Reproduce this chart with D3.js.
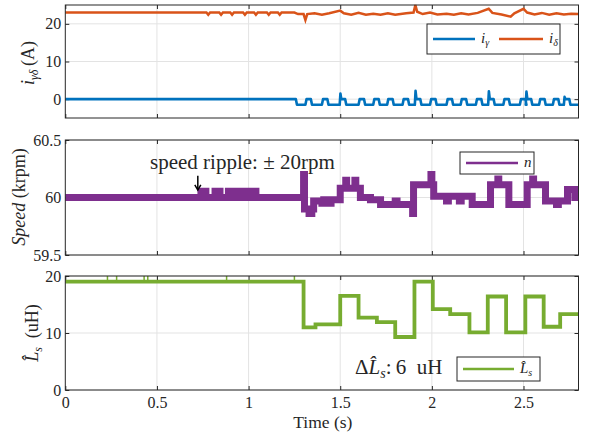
<!DOCTYPE html>
<html>
<head>
<meta charset="utf-8">
<script src="https://cdn.jsdelivr.net/npm/d3@7"></script>
<style>
  body { margin: 0; background: #fff; }
  text { font-family: "Liberation Serif", "Times New Roman", serif; fill: #262626; }
</style>
</head>
<body>
<svg width="589" height="438"></svg>
<script>
// values
let xTicks = [0, 0.5, 1, 1.5, 2, 2.5];
let currentTicks = [0, 10, 20];
let speedTicks = [59.5, 60, 60.5];
let lsTicks = [0, 10, 20];

// i_delta (A), [time, value]
let iDelta = [[0,23],[0.77,23],[0.78,22.4],[0.79,23],[0.84,23],[0.85,22.4],[0.86,23],[0.90,23],[0.91,22.4],
  [0.92,23],[0.97,23],[0.98,22.4],[0.99,23],[1.03,23],[1.04,22.4],[1.05,23],[1.10,23],[1.11,22.4],[1.12,23],
  [1.16,23],[1.17,22.4],[1.18,23],[1.25,23],[1.27,22.6],[1.30,22.6],[1.31,21.0],[1.32,22.6],[1.36,22.8],
  [1.40,22.4],[1.44,22.8],[1.50,23.5],[1.52,22.8],[1.56,22.4],[1.60,22.9],[1.64,22.4],[1.68,22.7],[1.72,22.4],
  [1.76,22.8],[1.80,22.4],[1.86,22.8],[1.90,23.0],[1.91,25],[1.92,23.2],[1.95,22.6],[1.99,23.0],[2.03,22.5],
  [2.08,22.7],[2.12,22.4],[2.16,22.8],[2.20,22.5],[2.25,22.9],[2.31,24.0],[2.33,22.9],[2.38,22.5],[2.43,21.9],
  [2.45,22.8],[2.50,24],[2.52,23.0],[2.56,22.5],[2.60,22.9],[2.64,22.4],[2.68,22.8],[2.72,22.5],[2.76,22.7],[2.8,22.6]];

// i_gamma (A): level, drop time, ripple bumps [start, peak]
let gammaHigh = 0;
let gammaLow = -1.5;
let gammaDrop = 1.258;
let gammaBumps = [[1.31,0],[1.40,0],[1.497,1.5],[1.60,0],[1.68,0],[1.756,0],[1.84,0],[1.907,2.2],[1.99,0],
  [2.08,0],[2.157,0],[2.24,0],[2.307,2.1],[2.39,0],[2.48,0],[2.512,2.0],[2.585,0],[2.66,0],[2.72,0.6]];

// speed n (krpm), step changes [time, value]
let speedSteps = [[0,60],[0.74,60.055],[0.767,60],[0.817,60.055],[0.844,60],[0.89,60.055],[0.917,60],
  [0.955,60.055],[0.982,60],[1.013,60.055],[1.04,60],[1.30,60.2],[1.305,59.9],[1.33,59.86],[1.345,59.9],
  [1.355,59.97],[1.40,59.95],[1.41,59.98],[1.44,59.95],[1.45,59.98],[1.50,60.08],[1.53,60.15],[1.535,60.08],
  [1.58,60.15],[1.585,60.08],[1.61,60.0],[1.665,59.98],[1.72,59.94],[1.80,59.97],[1.81,59.94],[1.895,59.86],
  [1.90,60.11],[1.995,60.2],[2.0,60.11],[2.01,60.01],[2.08,59.97],[2.09,60.01],[2.15,59.97],[2.16,60.01],
  [2.22,59.94],[2.32,60.11],[2.36,60.16],[2.365,60.11],[2.42,59.94],[2.52,60.11],[2.55,60.16],[2.555,60.11],
  [2.62,59.97],[2.68,59.94],[2.69,59.97],[2.74,60.07],[2.78,60.0],[2.8,60.0]];

// estimated L_s (uH), step changes [time, value]
let lsSteps = [[0,19],[1.30,11],[1.365,11.5],[1.50,16.5],[1.60,12.7],[1.70,11.9],[1.80,9.3],[1.905,19],
  [2.005,14.2],[2.10,13.3],[2.205,10.1],[2.305,16.4],[2.405,10.1],[2.51,16.4],[2.61,11.1],[2.70,13.3],[2.8,13.3]];
let lsNotches = [0.23, 0.28, 0.43, 0.45, 0.88, 1.25];

let colors = { gamma: '#0072BD', delta: '#D95319', speed: '#7E2F8E', ls: '#77AC30' };

let svg = d3.select('svg');
svg.append('rect').attr('width', 589).attr('height', 438).attr('fill', '#fff');

let xScale = d3.scaleLinear().domain([0, 2.8]).range([65.3, 578.5]);

let yTop = d3.scaleLinear().domain([-5, 25]).range([118, 5]);
let yMid = d3.scaleLinear().domain([59.5, 60.5]).range([255, 140]);
let yBot = d3.scaleLinear().domain([0, 20]).range([390, 276]);

function panel(y, ticks, showX) {
  let g = svg.append('g');
  let [y0, y1] = y.range();
  let [x0, x1] = xScale.range();
  // grid
  g.selectAll('.gx').data(xTicks.slice(1)).enter().append('line')
    .attr('x1', d => xScale(d)).attr('x2', d => xScale(d))
    .attr('y1', y1).attr('y2', y0)
    .attr('stroke', '#e3e3e3').attr('stroke-width', 1);
  g.selectAll('.gy').data(ticks).enter().append('line')
    .attr('x1', x0).attr('x2', x1)
    .attr('y1', d => y(d)).attr('y2', d => y(d))
    .attr('stroke', '#e3e3e3').attr('stroke-width', 1);

  let fmt = d => String(d);
  g.append('g').attr('transform', `translate(${x0},0)`)
    .call(d3.axisLeft(y).tickValues(ticks).tickSize(-4).tickPadding(4).tickFormat(fmt));
  g.append('g').attr('transform', `translate(${x1},0)`)
    .call(d3.axisRight(y).tickValues(ticks).tickSize(-4).tickFormat(''));
  g.append('g').attr('transform', `translate(0,${y0})`)
    .call(d3.axisBottom(xScale).tickValues(xTicks).tickSize(-4).tickPadding(7)
      .tickFormat(showX ? fmt : ''));
  g.append('g').attr('transform', `translate(0,${y1})`)
    .call(d3.axisTop(xScale).tickValues(xTicks).tickSize(-4).tickFormat(''));
  g.selectAll('.domain').remove();
  g.selectAll('g').attr('font-family', null);
  g.selectAll('.tick line').attr('stroke', '#262626');
  g.selectAll('.tick text').attr('font-size', 16).attr('fill', '#262626');
  return g;
}

function box(y) {
  let [y0, y1] = y.range();
  let [x0, x1] = xScale.range();
  svg.append('rect').attr('x', x0).attr('y', y1).attr('width', x1 - x0).attr('height', y0 - y1)
    .attr('fill', 'none').attr('stroke', '#262626').attr('stroke-width', 1);
}

// ---- top panel: currents
panel(yTop, currentTicks, false);

let gammaPts = [[0, gammaHigh], [gammaDrop, gammaHigh], [gammaDrop + 0.006, gammaLow]];
gammaBumps.forEach(([t, peak]) => {
  gammaPts.push([t, gammaLow]);
  if (peak > 0) {
    gammaPts.push([t + 0.004, peak], [t + 0.009, gammaHigh]);
  } else {
    gammaPts.push([t + 0.006, gammaHigh]);
  }
  gammaPts.push([t + 0.03, gammaHigh], [t + 0.036, gammaLow]);
});
gammaPts.push([2.8, gammaLow]);

let lineTop = d3.line().x(d => xScale(d[0])).y(d => yTop(d[1]));
svg.append('path').datum(iDelta).attr('d', lineTop)
  .attr('fill', 'none').attr('stroke', colors.delta).attr('stroke-width', 2.5);
svg.append('path').datum(gammaPts).attr('d', lineTop)
  .attr('fill', 'none').attr('stroke', colors.gamma).attr('stroke-width', 2.6)
  .attr('stroke-linejoin', 'round');
box(yTop);

// ---- middle panel: speed
panel(yMid, speedTicks, false);
let lineMid = d3.line().x(d => xScale(d[0])).y(d => yMid(d[1])).curve(d3.curveStepAfter);
svg.append('path').datum(speedSteps).attr('d', lineMid)
  .attr('fill', 'none').attr('stroke', colors.speed).attr('stroke-width', 7);
box(yMid);

// ---- bottom panel: L_s
panel(yBot, lsTicks, true);
let lineBot = d3.line().x(d => xScale(d[0])).y(d => yBot(d[1])).curve(d3.curveStepAfter);
svg.append('path').datum(lsSteps).attr('d', lineBot)
  .attr('fill', 'none').attr('stroke', colors.ls).attr('stroke-width', 3.8);
svg.selectAll('.notch').data(lsNotches).enter().append('line')
  .attr('x1', d => xScale(d)).attr('x2', d => xScale(d))
  .attr('y1', yBot(19)).attr('y2', yBot(20))
  .attr('stroke', colors.ls).attr('stroke-width', 1.5);
box(yBot);

// ---- axis labels
svg.append('text').attr('x', xScale(1.405)).attr('y', 428).attr('text-anchor', 'middle')
  .attr('font-size', 17.5).text('Time (s)');

let lt = svg.append('text').attr('transform', 'translate(34,63) rotate(-90)')
  .attr('text-anchor', 'middle').attr('font-size', 18);
lt.append('tspan').attr('font-style', 'italic').text('i');
lt.append('tspan').attr('font-style', 'italic').attr('font-size', 12).attr('dy', 4).text('γδ');
lt.append('tspan').attr('dy', -4).text('\u2009(A)');

let lm = svg.append('text').attr('transform', 'translate(25,197) rotate(-90)')
  .attr('text-anchor', 'middle').attr('font-size', 18);
lm.append('tspan').attr('font-style', 'italic').text('Speed');
lm.append('tspan').text(' (krpm)');

let lb = svg.append('text').attr('transform', 'translate(38,333) rotate(-90)')
  .attr('text-anchor', 'middle').attr('font-size', 18);
lb.append('tspan').attr('font-style', 'italic').text('L\u0302');
lb.append('tspan').attr('font-style', 'italic').attr('font-size', 12).attr('dy', 4).text('s');
lb.append('tspan').attr('dy', -4).text('\u00a0\u00a0(uH)');

// ---- legends
function legend(x, y, w, h, items) {
  let g = svg.append('g').attr('transform', `translate(${x},${y})`);
  g.append('rect').attr('width', w).attr('height', h).attr('fill', '#fff')
    .attr('stroke', '#262626').attr('stroke-width', 1);
  items.forEach(it => {
    g.append('line').attr('x1', it.x0).attr('x2', it.x1).attr('y1', h / 2).attr('y2', h / 2)
      .attr('stroke', it.color).attr('stroke-width', 2.5);
    let t = g.append('text').attr('x', it.x1 + 6).attr('y', h / 2 + 4).attr('font-size', 15)
      .attr('font-style', 'italic');
    t.append('tspan').text(it.main);
    t.append('tspan').attr('font-size', 10).attr('dy', 3).text(it.sub);
  });
}
legend(427, 24, 133, 30, [
  { x0: 6, x1: 48, color: colors.gamma, main: 'i', sub: 'γ' },
  { x0: 72, x1: 116, color: colors.delta, main: 'i', sub: 'δ' }
]);
legend(460, 152, 74, 22, [{ x0: 6, x1: 58, color: colors.speed, main: 'n', sub: '' }]);
legend(457, 357, 83, 24, [{ x0: 6, x1: 57, color: colors.ls, main: 'L\u0302', sub: 's' }]);

// ---- annotations
svg.append('text').attr('x', 150).attr('y', 169).attr('font-size', 21)
  .text('speed ripple: \u00b1 20rpm');
let ax = xScale(0.723);
svg.append('line').attr('x1', ax).attr('x2', ax).attr('y1', yMid(60.19)).attr('y2', yMid(60.07))
  .attr('stroke', '#000').attr('stroke-width', 1.5);
svg.append('path')
  .attr('d', `M${ax - 3},${yMid(60.11)} L${ax},${yMid(60.065)} L${ax + 3},${yMid(60.11)}`)
  .attr('fill', 'none').attr('stroke', '#000').attr('stroke-width', 1.5);

let an = svg.append('text').attr('x', 355).attr('y', 374).attr('font-size', 21);
an.append('tspan').text('\u0394');
an.append('tspan').attr('font-style', 'italic').text('L\u0302');
an.append('tspan').attr('font-style', 'italic').attr('font-size', 14).attr('dy', 4).text('s');
an.append('tspan').attr('dy', -4).text(':\u20096\u00a0\u00a0uH');
</script>
</body>
</html>
